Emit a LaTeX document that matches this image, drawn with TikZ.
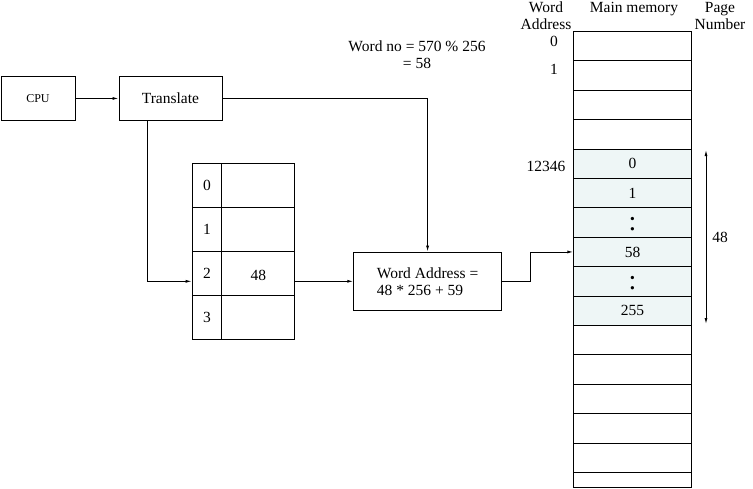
\documentclass[tikz,border=0pt]{standalone}
\usepackage{fontspec}
\setmainfont{Liberation Serif}
\usetikzlibrary{arrows.meta}
\definecolor{memfill}{RGB}{238,246,246}
\begin{document}
\begin{tikzpicture}[x=1pt,y=-1pt, line width=0.9pt,
  font=\fontsize{15.5}{17}\selectfont,
  box/.style={draw, inner sep=0pt, anchor=north west},
  arr/.style={-{Latex[length=6pt,width=3pt]}},
  dbl/.style={{Latex[length=6pt,width=3pt]}-{Latex[length=6pt,width=3pt]}},
  lbl/.style={inner sep=0pt},
]
\useasboundingbox (0,0) rectangle (753,488);
% CPU and translate
\node[box, minimum width=74pt, minimum height=44pt] (cpu) at (0.5,76) {\fontsize{12}{14}\selectfont CPU};
\node[box, minimum width=103pt, minimum height=44pt] (tr) at (118.5,76) {Translate};
% page table
\foreach \i in {0,...,3} {
  \node[box, minimum width=29.6pt, minimum height=44pt] (pi\i) at (191.7,{163.3+44*\i}) {\i};
  \node[box, minimum width=73pt, minimum height=44pt] (pv\i) at (221.3,{163.3+44*\i}) {};
}
\node[lbl] at ([yshift=-2pt]pv2.center) {48};
% word address box
\node[box, minimum width=147.7pt, minimum height=58.3pt, align=left] (wa) at (353.3,251.7) {Word Address =\\48 * 256 + 59};
% word no text
\node[lbl, align=center] (wn) at (417,55) {Word no = 570 \% 256\\= 58};
% memory
\foreach \i in {0,...,14} {
  \pgfmathtruncatemacro{\sh}{(\i>3)&&(\i<10)}
  \ifnum\sh=1
    \node[box, fill=memfill, minimum width=117.7pt, minimum height=29.4pt] (m\i) at (573.3,{31+29.4*\i}) {};
  \else
    \node[box, minimum width=117.7pt, minimum height=29.4pt] (m\i) at (573.3,{31+29.4*\i}) {};
  \fi
}
\node[box, minimum width=117.7pt, minimum height=15pt] (m15) at (573.3,472) {};
\node[lbl] at (m4.center) {0};
\node[lbl] at (m5.center) {1};
\node[lbl, font=\fontsize{28}{28}\selectfont] at ([yshift=-2pt]m6.center) {:};
\node[lbl] at (m7.center) {58};
\node[lbl, font=\fontsize{28}{28}\selectfont] at ([yshift=-2pt]m8.center) {:};
\node[lbl] at (m9.center) {255};
% labels
\node[lbl, align=center] (hwa) at (546,16) {Word\\Address};
\node[lbl] (hmm) at (634,9) {Main memory};
\node[lbl, align=center] (hpn) at (720,16) {Page\\Number};
\node[lbl] (a0) at (554,41) {0};
\node[lbl] (a1) at (554,69) {1};
\node[lbl] (a12346) at (546,166) {12346};
% 48 span arrow
\coordinate (s48t) at (706,150);
\coordinate (s48b) at (706,324);
\draw[dbl] (s48t) -- node[lbl, right=6pt] {48} (s48b);
% connectors
\draw[arr] (cpu.east) -- (tr.west);
\draw[arr] (tr.east) -| (wa.north);
\coordinate (trs) at ([xshift=-23pt]tr.south);
\draw[arr] (trs) |- (pi2.west |- wa.west);
\draw[arr] (pv2.east |- wa.west) -- (wa.west);
\draw[arr] (wa.east) -- ++(29,0) |- (m7.west);
\end{tikzpicture}
\end{document}
